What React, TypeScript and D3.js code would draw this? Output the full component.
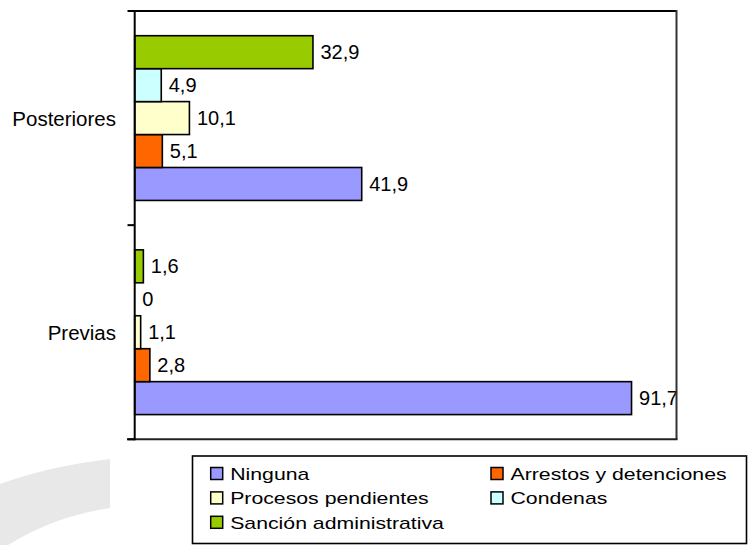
import React from 'react'
import * as d3 from 'd3'

// categories, top to bottom as drawn
const categories = ['Posteriores', 'Previas']

// series in legend order (first series is the bottom bar of each group)
const seriesNames = ['Ninguna', 'Arrestos y detenciones', 'Procesos pendientes', 'Condenas', 'Sanción administrativa']
const seriesColors = ['#9999ff', '#ff6600', '#ffffcc', '#ccffff', '#99cc00']

const posteriores = [41.9, 5.1, 10.1, 4.9, 32.9]
const previas = [91.7, 2.8, 1.1, 0, 1.6]

const xTicks = [0, 100]

const W = 748
const H = 545
const font = '"Liberation Sans", Arial, sans-serif'

const fmt = (v: number) => String(v).replace('.', ',')

const App: React.FC = () => {
  const left = 134.7
  const right = 676.5
  const top = 11
  const bottom = 439.3

  const x = d3.scaleLinear().domain([xTicks[0], xTicks[1]]).range([left, right])
  const y0 = d3.scaleBand<string>().domain(categories).range([top, bottom])
  // bars top to bottom: last series first
  const stackOrder = seriesNames.slice().reverse()
  const y1 = d3
    .scaleBand<string>()
    .domain(stackOrder)
    .range([0, y0.bandwidth()])
    .paddingInner(0)
    .paddingOuter(0.75)

  const rows = categories.map((c, ci) => ({
    cat: c,
    values: ci === 0 ? posteriores : previas,
  }))

  const boundaries = [top, ...categories.map(c => (y0(c) as number) + y0.bandwidth())]

  // legend layout
  const legTop = 456
  const rowH = 24.4
  const colX = [210.7, 491]
  const legendItems = seriesNames.map((name, i) => ({
    name,
    color: seriesColors[i],
    col: i % 2,
    row: Math.floor(i / 2),
  }))

  return (
    <svg
      width={W}
      height={H}
      style={{ position: 'absolute', left: 0, top: 0, background: '#fff' }}
      fontFamily={font}
    >
      {/* faint swoosh in the corner */}
      <path d="M0,484 Q50,466 110,459 L110,508 Q55,516 8,545 L0,545 Z" fill="#e8e8e8" />

      {/* bars */}
      {rows.map(r => (
        <g key={r.cat} transform={`translate(0,${y0(r.cat)})`}>
          {r.values.map((v, i) => {
            const name = seriesNames[i]
            const yy = y1(name) as number
            const bh = y1.bandwidth()
            return (
              <g key={name}>
                {v > 0 && (
                  <rect
                    x={x(0)}
                    y={yy}
                    width={x(v) - x(0)}
                    height={bh}
                    fill={seriesColors[i]}
                    stroke="#000"
                    strokeWidth={1.6}
                  />
                )}
                <text x={x(v) + 7.5} y={yy + bh / 2 + 7} fontSize={20} fill="#000">
                  {fmt(v)}
                </text>
              </g>
            )
          })}
        </g>
      ))}

      {/* plot frame */}
      <line x1={128} x2={right} y1={top} y2={top} stroke="#000" strokeWidth={2} />
      <line x1={right} x2={right} y1={top - 1} y2={bottom} stroke="#333" strokeWidth={2} />
      <line x1={127} x2={right + 1} y1={bottom} y2={bottom} stroke="#222" strokeWidth={2} />
      <line x1={left} x2={left} y1={top - 1} y2={bottom + 1} stroke="#000" strokeWidth={2} />
      {boundaries.map((b, i) => (
        <line key={i} x1={127.5} x2={left} y1={b} y2={b} stroke="#000" strokeWidth={2} />
      ))}

      {/* category labels */}
      {categories.map(c => (
        <text
          key={c}
          x={116}
          y={(y0(c) as number) + y0.bandwidth() / 2 + 7.5}
          textAnchor="end"
          fontSize={20.5}
          fill="#000"
        >
          {c}
        </text>
      ))}

      {/* legend */}
      <rect x={192.5} y={legTop} width={554} height={H - legTop - 1.5} fill="#fff" stroke="#000" strokeWidth={1.6} />
      {legendItems.map(it => {
        const cy = legTop + 17.5 + it.row * rowH
        const sx = colX[it.col]
        return (
          <g key={it.name}>
            <rect x={sx} y={cy - 6} width={12} height={12} fill={it.color} stroke="#000" strokeWidth={1.5} />
            <text
              transform={`translate(${sx + 19.5},${cy + 6.3}) scale(1.25,1)`}
              fontSize={17}
              fill="#000"
            >
              {it.name}
            </text>
          </g>
        )
      })}
    </svg>
  )
}

export default App
